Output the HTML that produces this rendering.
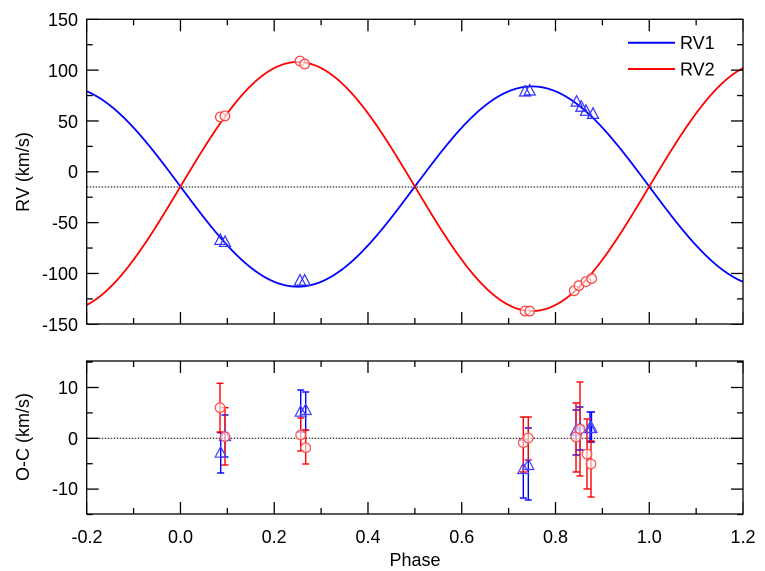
<!DOCTYPE html>
<html><head><meta charset="utf-8"><style>
html,body{margin:0;padding:0;background:#fff;}
svg{display:block;font-family:"Liberation Sans",Arial,sans-serif;}
</style></head><body>
<svg id="s" width="765" height="571" viewBox="0 0 765 571" xmlns="http://www.w3.org/2000/svg">
<rect width="765" height="571" fill="#fff"/>
<g id="g"></g>
<g font-size="18" fill="#000" text-anchor="end">
<text x="78" y="26">150</text>
<text x="78" y="77">100</text>
<text x="78" y="128">50</text>
<text x="78" y="178">0</text>
<text x="78" y="229">-50</text>
<text x="78" y="280">-100</text>
<text x="78" y="331">-150</text>
<text x="78" y="394">10</text>
<text x="78" y="445">0</text>
<text x="78" y="495">-10</text>
</g>
<g font-size="18" fill="#000" text-anchor="middle">
<text x="87" y="543">-0.2</text>
<text x="180.5" y="543">0.0</text>
<text x="274.2" y="543">0.2</text>
<text x="368" y="543">0.4</text>
<text x="461.8" y="543">0.6</text>
<text x="555.5" y="543">0.8</text>
<text x="649.3" y="543">1.0</text>
<text x="743" y="543">1.2</text>
<text x="415" y="566">Phase</text>
<text transform="translate(29,172) rotate(-90)">RV (km/s)</text>
<text transform="translate(29,437) rotate(-90)">O-C (km/s)</text>
</g>
<line x1="628" y1="42.7" x2="675" y2="42.7" stroke="#0000ff" stroke-width="2"/>
<line x1="628" y1="69" x2="675" y2="69" stroke="#ff0000" stroke-width="2"/>
<text x="680" y="49" font-size="18">RV1</text>
<text x="680" y="75.5" font-size="18">RV2</text>
</svg>
<script>
var g=document.getElementById('g');var h='';
function X(p){return 86.7+(p+0.2)*468.8;}
function Y(v){return 19.3+(150-v)*305/300;}
function R(v){return 438.3-v*5.08;}
var G=-14.5,K1=98.5,K2=122.5;
function path(f,c){var d='';for(var i=0;i<=700;i++){var p=-0.2+i*1.4/700;var x=X(p),y=Y(f(p));d+=(i?'L':'M')+x.toFixed(2)+' '+y.toFixed(2);}h+='<path d="'+d+'" fill="none" stroke="'+c+'" stroke-width="1.8"/>';}
h+='<line x1="86.7" y1="'+Y(-15)+'" x2="743" y2="'+Y(-15)+'" stroke="#000" stroke-width="1" stroke-dasharray="1.5,1.5"/>';
h+='<line x1="86.7" y1="438.3" x2="743" y2="438.3" stroke="#000" stroke-width="1" stroke-dasharray="1.5,1.5"/>';
path(function(p){return G-K1*Math.sin(2*Math.PI*p);},'#0000ff');
path(function(p){return G+K2*Math.sin(2*Math.PI*p);},'#ff0000');
function tri(x,y,c){h+='<polygon points="'+(x-5.5)+','+(y+4.5)+' '+(x+5.5)+','+(y+4.5)+' '+x+','+(y-6)+'" fill="none" stroke="'+c+'" stroke-width="1.2"/>';}
function cir(x,y,c){h+='<circle cx="'+x+'" cy="'+y+'" r="4.8" fill="#fff" fill-opacity="0.6" stroke="'+c+'" stroke-width="1.2"/>';}
var t1=[[0.085,-67],[0.095,-69],[0.255,-107],[0.265,-107],[0.735,79],[0.745,80],[0.845,69],[0.855,64],[0.865,60],[0.88,57]];
var t2=[[0.085,54],[0.095,55],[0.255,109],[0.265,106],[0.735,-137],[0.745,-137],[0.84,-117],[0.85,-112],[0.865,-108],[0.877,-105]];
t1.forEach(function(a){tri(X(a[0]),Y(a[1]),'#3030ff');});
t2.forEach(function(a){cir(X(a[0]),Y(a[1]),'#ff4040');});
function eb(x,y1,y2,c){h+='<g stroke="'+c+'" stroke-width="1.4"><line x1="'+x+'" y1="'+y1+'" x2="'+x+'" y2="'+y2+'"/><line x1="'+(x-3.5)+'" y1="'+y1+'" x2="'+(x+3.5)+'" y2="'+y1+'"/><line x1="'+(x-3.5)+'" y1="'+y2+'" x2="'+(x+3.5)+'" y2="'+y2+'"/></g>';}
var rb=[[220.7,452.7,432.7,473],[225,436,415,457],[300.7,411.7,390,432],[305.7,410,392,430],[523.3,469,440,498],[528.3,465,428,500],[576,430.7,410,455],[580,428,407,450],[590,428,412,442],[591.5,428,412,442]];
var rr=[[220,407.7,383.3,432],[225,436.7,407.7,465],[300.7,435,418,451],[305.7,447.7,430,464],[523.3,442.7,417,472],[528.3,438,417,460],[576,437,403,472],[580,429,382,476],[587,454,419,489],[591,464,441,497]];
rb.forEach(function(a){eb(a[0],a[2],a[3],'#0000ff');});
rr.forEach(function(a){eb(a[0],a[2],a[3],'#ff0000');});
rb.forEach(function(a){tri(a[0],a[1],'#4040ff');});
rr.forEach(function(a){cir(a[0],a[1],'#ff5050');});
function frame(top,bot,yticks){h+='<rect x="86.7" y="'+top+'" width="656.3" height="'+(bot-top)+'" fill="none" stroke="#000" stroke-width="1.3"/>';
for(var i=0;i<=14;i++){var x=X(-0.2+i*0.1),L=(i%2==0)?12:6;h+='<line x1="'+x+'" y1="'+top+'" x2="'+x+'" y2="'+(top+L)+'" stroke="#000" stroke-width="1.3"/><line x1="'+x+'" y1="'+bot+'" x2="'+x+'" y2="'+(bot-L)+'" stroke="#000" stroke-width="1.3"/>';}
yticks.forEach(function(t){var L=t[1]?12:6;h+='<line x1="86.7" y1="'+t[0]+'" x2="'+(86.7+L)+'" y2="'+t[0]+'" stroke="#000" stroke-width="1.3"/><line x1="743" y1="'+t[0]+'" x2="'+(743-L)+'" y2="'+t[0]+'" stroke="#000" stroke-width="1.3"/>';});}
var yt=[];for(var v=-150;v<=150;v+=25)yt.push([Y(v),v%50==0]);
frame(19.3,324,yt);
var yt2=[];for(var v=-15;v<=15;v+=5)yt2.push([R(v),v%10==0]);
frame(361,514,yt2);
g.innerHTML=h;
</script>
</body></html>
